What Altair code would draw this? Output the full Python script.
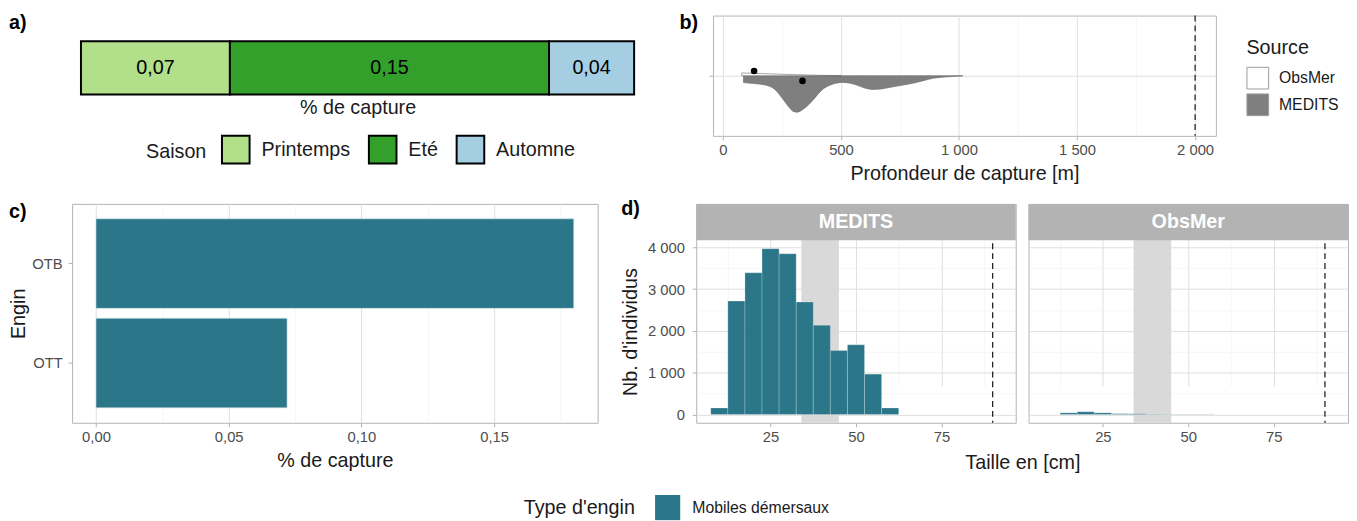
import altair as alt
import pandas as pd

FONT = "Liberation Sans"
TEAL = "#2C7689"
BORDER = "#B3B3B3"
GRID_MAJ = "#DEDEDE"
GRID_MIN = "#EFEFEF"
LABEL_COL = "#4D4D4D"
TITLE_COL = "#1A1A1A"

# ---------------- data ----------------
# a) catch share by season
saisons = ["Printemps", "Eté", "Automne"]
saison_pct = [0.07, 0.15, 0.04]
saison_colors = ["#B2DF8A", "#33A02C", "#A6CEE3"]

# b) depth distribution (half-violin profiles)
sources = ["ObsMer", "MEDITS"]
source_fill = ["#FFFFFF", "#7F7F7F"]
medits_depth = [87, 130, 181, 220, 252, 280, 300, 315, 340, 365, 395, 422, 450, 478,
                507, 535, 563, 600, 634, 670, 705, 750, 804, 850, 889, 930, 974, 1016]
medits_width = [7.0, 8.0, 9.5, 14, 23, 32, 36.5, 37, 34, 29, 21, 14, 10, 7.7,
                6.8, 7.5, 9.3, 12.5, 14, 13.5, 12, 10, 7.7, 5, 2.7, 1.5, 0.7, 0.3]
obsmer_depth = [80, 120, 170, 230, 300, 380, 460, 500]
obsmer_width = [2.8, 2.5, 2.1, 1.6, 1.1, 0.6, 0.2, 0.0]
median_source = ["ObsMer", "MEDITS"]
median_depth = [132, 337]
median_offset = [4.8, -5.3]
max_depth = [2000]

# c) catch share by gear
engins = ["OTB", "OTT"]
engin_pct = [0.180, 0.072]
engin_type = ["Mobiles démersaux", "Mobiles démersaux"]

# d) length histograms
facets = ["MEDITS", "ObsMer"]
medits_bin_start = [7.5, 12.5, 17.5, 22.5, 27.5, 32.5, 37.5, 42.5, 47.5, 52.5, 57.5]
medits_counts = [156, 2712, 3390, 3967, 3842, 2689, 2135, 1528, 1668, 966, 156]
obsmer_bin_start = [12.5, 17.5, 22.5, 27.5, 32.5, 37.5, 42.5, 47.5, 52.5]
obsmer_counts = [40, 65, 40, 20, 18, 8, 6, 6, 6]
bin_width = 5
maturity_band = [34, 45]
max_size = [90]

# ---------------- helpers ----------------
FMT_THOU = "replace(format(datum.value, ','), ',', ' ')"
FMT_DEC = "replace(format(datum.value, '.2f'), '.', ',')"
FMT_INT = "format(datum.value, 'd')"


def num_axis(values, test, fmt, **kw):
    base = dict(
        values=values,
        labelExpr=f"({test}) ? {fmt} : ''",
        gridColor={"condition": {"test": test, "value": GRID_MAJ}, "value": GRID_MIN},
        gridWidth={"condition": {"test": test, "value": 1.0}, "value": 0.6},
        tickOpacity={"condition": {"test": test, "value": 1}, "value": 0},
        labelOverlap=False,
        labelFlush=False,
        domain=False,
        tickColor=BORDER,
        tickSize=4,
        labelPadding=3,
        labelFontSize=15,
        labelColor=LABEL_COL,
        titleFontSize=20,
        titleColor=TITLE_COL,
        titleFontWeight="normal",
        titlePadding=6,
    )
    base.update(kw)
    return alt.Axis(**base)


def panel_title(txt, dx, offset):
    return alt.TitleParams(txt, anchor="start", frame="group", dx=dx, offset=offset,
                           fontSize=20, fontWeight="bold", color="black")


# ---------------- panel a ----------------
H_TOP = 122
A_LEFT, A_W = 9, 561
df_a = pd.DataFrame({"saison": saisons, "pct": saison_pct, "ord": list(range(len(saisons))),
                     "g": ["x"] * len(saisons)})
xsc_a = alt.Scale(domain=[0, sum(saison_pct)], range=[A_LEFT, A_LEFT + A_W], nice=False, zero=False)
ysc_a = alt.Y("g:N", axis=None, scale=alt.Scale(range=[26, 80], paddingInner=0, paddingOuter=0))
bars_a = alt.Chart(df_a).mark_bar(stroke="black", strokeWidth=2).encode(
    x=alt.X("pct:Q", stack="zero", scale=xsc_a,
            axis=alt.Axis(title="% de capture", labels=False, ticks=False, domain=False, grid=False,
                          offset=-(H_TOP - 80), titlePadding=3, titleX=A_LEFT + A_W / 2,
                          titleFontSize=20, titleColor=TITLE_COL, titleFontWeight="normal")),
    y=ysc_a,
    color=alt.Color("saison:N", sort=saisons,
                    scale=alt.Scale(domain=saisons, range=saison_colors),
                    legend=alt.Legend(title="Saison", orient="none", legendX=75, legendY=121,
                                      direction="horizontal", titleOrient="left",
                                      symbolType="square", symbolSize=784,
                                      symbolStrokeColor="black", symbolStrokeWidth=2,
                                      symbolOpacity=1, labelFontSize=20, titleFontSize=20,
                                      titleFontWeight="normal", titleColor=TITLE_COL,
                                      labelColor=TITLE_COL, columnPadding=14, labelOffset=11,
                                      titlePadding=14)),
    order=alt.Order("ord:Q"),
)
text_a = alt.Chart(df_a).transform_window(
    cum="sum(pct)", sort=[alt.SortField("ord")]
).transform_calculate(
    mid="datum.cum - datum.pct / 2",
    lab="replace(format(datum.pct, '.2f'), '.', ',')",
).mark_text(fontSize=20, color="black").encode(
    x=alt.X("mid:Q", scale=xsc_a), y=ysc_a, text="lab:N"
)
panel_a = alt.layer(bars_a, text_a).properties(
    width=A_LEFT + A_W, height=H_TOP, view=alt.ViewBackground(stroke="transparent"),
    title=panel_title("a)", dx=-64, offset=-18),
)

# ---------------- panel b ----------------
df_dens = pd.concat([
    pd.DataFrame({"source": "MEDITS", "depth": medits_depth, "w": [-v for v in medits_width]}),
    pd.DataFrame({"source": "ObsMer", "depth": obsmer_depth, "w": obsmer_width}),
], ignore_index=True)
df_dens["zero"] = 0
xsc_b = alt.Scale(domain=[-42, 2088], nice=False, zero=False)
ysc_b = alt.Scale(domain=[-61, 61], nice=False, zero=False)
area_b = alt.Chart(df_dens).mark_area(orient="vertical", interpolate="monotone", stroke="#666666",
                                      strokeWidth=0.6).encode(
    x=alt.X("depth:Q", scale=xsc_b,
            axis=num_axis(list(range(0, 2001, 250)), "datum.value % 500 === 0", FMT_THOU,
                          title="Profondeur de capture [m]")),
    y=alt.Y("w:Q", scale=ysc_b,
            axis=alt.Axis(values=[0], labels=False, title=None, domain=False, tickColor=BORDER,
                          tickSize=4, gridColor=GRID_MAJ, gridWidth=1)),
    y2=alt.Y2("zero:Q"),
    fill=alt.Fill("source:N", scale=alt.Scale(domain=sources, range=source_fill),
                  legend=alt.Legend(title="Source", orient="none", legendX=541, legendY=23,
                                    symbolType="square", symbolSize=484,
                                    symbolStrokeColor="#9A9A9A", symbolStrokeWidth=1,
                                    symbolOpacity=1, rowPadding=0, labelFontSize=16,
                                    titleFontSize=20, titleFontWeight="normal",
                                    titleColor=TITLE_COL, labelColor=TITLE_COL,
                                    labelOffset=10, titlePadding=9)),
    detail="source:N",
)
rule_b = alt.Chart(pd.DataFrame({"d": max_depth})).mark_rule(
    color="#222222", strokeDash=[6, 4], strokeWidth=1.3).encode(x="d:Q")
pts_b = alt.Chart(pd.DataFrame({"source": median_source, "depth": median_depth,
                                "off": median_offset})).mark_circle(
    size=45, color="black", opacity=1).encode(x="depth:Q", y="off:Q")
panel_b = alt.layer(area_b, rule_b, pts_b).properties(
    width=510, height=H_TOP, title=panel_title("b)", dx=-34, offset=-18),
)

# ---------------- panel c ----------------
H_BOT = 222
df_c = pd.DataFrame({"engin": engins, "pct": engin_pct, "type": engin_type})
panel_c = alt.Chart(df_c).mark_bar(stroke="#CFE3E9", strokeWidth=0.6).encode(
    x=alt.X("pct:Q", scale=alt.Scale(domain=[-0.009, 0.189], nice=False, zero=False),
            axis=num_axis([0, 0.025, 0.05, 0.075, 0.1, 0.125, 0.15, 0.175],
                          "round(datum.value * 1000) % 50 === 0", FMT_DEC,
                          title="% de capture")),
    x2=alt.datum(0),
    y=alt.Y("engin:N", sort=engins, scale=alt.Scale(paddingInner=0.1, paddingOuter=0.15),
            axis=alt.Axis(title="Engin", bandPosition=0.5, domain=False, tickColor=BORDER,
                          tickSize=4, labelPadding=6, gridColor=GRID_MAJ, gridWidth=1,
                          labelFontSize=15, labelColor=LABEL_COL, titleFontSize=20,
                          titleColor=TITLE_COL, titleFontWeight="normal", titlePadding=3)),
    color=alt.Color("type:N", scale=alt.Scale(range=[TEAL]), legend=None),
).properties(width=533, height=H_BOT, title=panel_title("c)", dx=-64, offset=-18))

# ---------------- panel d ----------------
W_D, STRIP = 324, 37
xsc_d = alt.Scale(domain=[3.25, 96.75], nice=False, zero=False)
ysc_d = alt.Scale(domain=[-198, 4165], range=[H_BOT, STRIP], nice=False, zero=False)


def hist_panel(starts, counts, name, show_y):
    df_h = pd.DataFrame({"start": starts, "count": counts})
    df_h["end"] = df_h["start"] + bin_width
    if show_y:
        yaxis = num_axis(list(range(0, 4001, 500)), "datum.value % 1000 === 0", FMT_THOU,
                         title="Nb. d'individus", labelPadding=8, titlePadding=7)
    else:
        yaxis = num_axis(list(range(0, 4001, 500)), "datum.value % 1000 === 0", "''",
                         title=None, labels=False, ticks=False)
    band = alt.Chart(pd.DataFrame({"lo": [maturity_band[0]], "hi": [maturity_band[1]]})).mark_rect(
        color="#D9D9D9").encode(
        x=alt.X("lo:Q", scale=xsc_d,
                axis=num_axis([12.5, 25, 37.5, 50, 62.5, 75, 87.5], "datum.value % 25 === 0",
                              FMT_INT, title=None)),
        x2="hi:Q",
    )
    bars = alt.Chart(df_h).mark_bar(color=TEAL, stroke="#FFFFFF", strokeWidth=0.5,
                                    strokeOpacity=0.45).encode(
        x="start:Q", x2="end:Q",
        y=alt.Y("count:Q", scale=ysc_d, axis=yaxis), y2=alt.datum(0),
    )
    rule = alt.Chart(pd.DataFrame({"m": max_size})).mark_rule(
        color="#222222", strokeDash=[6, 4], strokeWidth=1.3).encode(x="m:Q")
    df_s = pd.DataFrame({"src": [name]})
    strip = alt.Chart(df_s).mark_rect(color=BORDER).encode(
        x=alt.value(0), x2=alt.value(W_D), y=alt.value(0), y2=alt.value(STRIP))
    strip_txt = alt.Chart(df_s).mark_text(color="white", fontWeight="bold", fontSize=20).encode(
        x=alt.value(W_D / 2), y=alt.value(STRIP / 2), text="src:N")
    props = dict(width=W_D, height=H_BOT)
    if show_y:
        props["title"] = panel_title("d)", dx=-76, offset=-16)
    return alt.layer(band, bars, rule, strip, strip_txt).properties(**props)


panel_d1 = hist_panel(medits_bin_start, medits_counts, facets[0], True)
panel_d2 = hist_panel(obsmer_bin_start, obsmer_counts, facets[1], False)
panel_d = alt.hconcat(panel_d1, panel_d2, spacing=11).resolve_scale(
    x="independent", y="independent").properties(
    title=alt.TitleParams("Taille en [cm]", orient="bottom", anchor="middle", dx=39, offset=8,
                          fontSize=20, fontWeight="normal", color=TITLE_COL))

# ---------------- bottom legend ----------------
leg_df = pd.DataFrame({"type": [engin_type[0]]})
legend_row = alt.Chart(leg_df).mark_square(size=1, opacity=0).encode(
    color=alt.Color("type:N", scale=alt.Scale(range=[TEAL]),
                    legend=alt.Legend(title="Type d'engin", orient="none", legendX=458, legendY=7,
                                      direction="horizontal", titleOrient="left",
                                      symbolType="square", symbolSize=650, symbolOpacity=1,
                                      symbolStrokeWidth=0, labelFontSize=16, titleFontSize=20,
                                      titleFontWeight="normal", titleColor=TITLE_COL,
                                      labelColor=TITLE_COL, labelOffset=12, titlePadding=20)),
).properties(width=1, height=1, view=alt.ViewBackground(stroke="transparent"))

# ---------------- assemble ----------------
row1 = alt.hconcat(panel_a, panel_b, spacing=43).resolve_scale(
    x="independent", y="independent", color="independent", fill="independent")
row2 = alt.hconcat(panel_c, panel_d, spacing=21).resolve_scale(
    x="independent", y="independent", color="independent")
chart = alt.vconcat(row1, row2, legend_row, spacing=14).resolve_scale(
    x="independent", y="independent", color="independent", fill="independent"
).properties(padding=0, background="white").configure(font=FONT).configure_view(
    stroke=BORDER, strokeWidth=1
)

chart.save("out.html", embed_options={"renderer": "svg", "actions": False})
